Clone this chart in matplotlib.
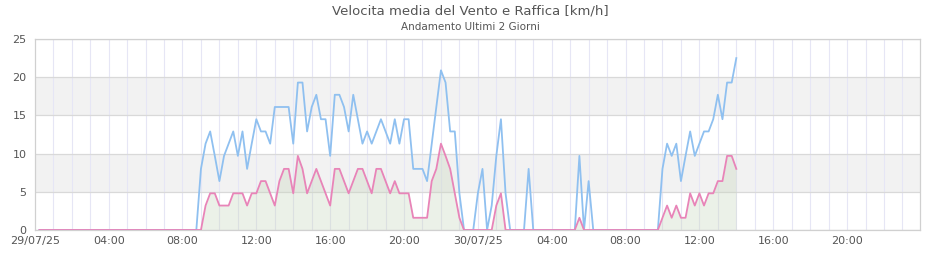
import matplotlib
matplotlib.use("Agg")
import matplotlib.pyplot as plt
import numpy as np

title = "Velocita media del Vento e Raffica [km/h]"
subtitle = "Andamento Ultimi 2 Giorni"

# samples every 15 minutes, starting 29/07/25 00:15 (hours since 29/07/25 00:00)
sample_step_h = 0.25
first_sample_h = 0.25

# Raffica (gust), km/h -- one row per hour (4 samples)
gust = [
    0, 0, 0, 0,   0, 0, 0, 0,   0, 0, 0, 0,   0, 0, 0, 0,
    0, 0, 0, 0,   0, 0, 0, 0,   0, 0, 0, 0,   0, 0, 0, 0,
    0, 0, 0, 8.0,
    11.3, 12.9, 9.7, 6.4,
    9.7, 11.3, 12.9, 9.7,
    12.9, 8.0, 11.3, 14.5,
    12.9, 12.9, 11.3, 16.1,
    16.1, 16.1, 16.1, 11.3,
    19.3, 19.3, 12.9, 16.1,
    17.7, 14.5, 14.5, 9.7,
    17.7, 17.7, 16.1, 12.9,
    17.7, 14.5, 11.3, 12.9,
    11.3, 12.9, 14.5, 12.9,
    11.3, 14.5, 11.3, 14.5,
    14.5, 8.0, 8.0, 8.0,
    6.4, 11.3, 16.1, 20.9,
    19.3, 12.9, 12.9, 4.8,
    0, 0, 0, 4.8,
    8.0, 0, 3.2, 9.7,
    14.5, 4.8, 0, 0,
    0, 0, 8.0, 0,
    0, 0, 0, 0,
    0, 0, 0, 0,
    0, 9.7, 0, 6.4,
    0, 0, 0, 0,   0, 0, 0, 0,   0, 0, 0, 0,
    0, 0, 0, 8.0,
    11.3, 9.7, 11.3, 6.4,
    9.7, 12.9, 9.7, 11.3,
    12.9, 12.9, 14.5, 17.7,
    14.5, 19.3, 19.3, 22.5,
]

# Velocita media (mean speed), km/h
mean = [
    0, 0, 0, 0,   0, 0, 0, 0,   0, 0, 0, 0,   0, 0, 0, 0,
    0, 0, 0, 0,   0, 0, 0, 0,   0, 0, 0, 0,   0, 0, 0, 0,
    0, 0, 0, 0,
    3.2, 4.8, 4.8, 3.2,
    3.2, 3.2, 4.8, 4.8,
    4.8, 3.2, 4.8, 4.8,
    6.4, 6.4, 4.8, 3.2,
    6.4, 8.0, 8.0, 4.8,
    9.7, 8.0, 4.8, 6.4,
    8.0, 6.4, 4.8, 3.2,
    8.0, 8.0, 6.4, 4.8,
    6.4, 8.0, 8.0, 6.4,
    4.8, 8.0, 8.0, 6.4,
    4.8, 6.4, 4.8, 4.8,
    4.8, 1.6, 1.6, 1.6,
    1.6, 6.4, 8.0, 11.3,
    9.7, 8.0, 4.8, 1.6,
    0, 0, 0, 0,
    0, 0, 0, 3.2,
    4.8, 0, 0, 0,
    0, 0, 0, 0,
    0, 0, 0, 0,
    0, 0, 0, 0,
    0, 1.6, 0, 0,
    0, 0, 0, 0,   0, 0, 0, 0,   0, 0, 0, 0,
    0, 0, 0, 1.6,
    3.2, 1.6, 3.2, 1.6,
    1.6, 4.8, 3.2, 4.8,
    3.2, 4.8, 4.8, 6.4,
    6.4, 9.7, 9.7, 8.0,
]

tick_hours = [0, 4, 8, 12, 16, 20, 24, 28, 32, 36, 40, 44]
tick_labels = ["29/07/25", "04:00", "08:00", "12:00", "16:00", "20:00",
               "30/07/25", "04:00", "08:00", "12:00", "16:00", "20:00"]
y_ticks = [0, 5, 10, 15, 20, 25]

hours = first_sample_h + sample_step_h * np.arange(len(gust))

fig = plt.figure(figsize=(9.4, 2.6), dpi=100)
ax = fig.add_axes([34.8 / 940, 1 - 230 / 260, (920 - 34.8) / 940, (230 - 39) / 260])

xmax = 47.95
ax.set_xlim(0, xmax)
ax.set_ylim(0, 25)

# alternating bands
for lo in (5, 15):
    ax.axhspan(lo, lo + 5, color="#f2f2f2", zorder=0, lw=0)

# vertical hourly grid
for h in range(1, 48):
    ax.axvline(h, color="#e6e6f5", lw=0.8, zorder=1)
for yv in y_ticks:
    ax.axhline(yv, color="#d9d9d9", lw=0.9, zorder=1)

ax.fill_between(hours, 0, mean, color="#c8d7be", alpha=0.35, lw=0, zorder=2)
ax.plot(hours, gust, color="#8fc0f0", lw=1.3, zorder=3)
ax.plot(hours, mean, color="#e884b8", lw=1.3, zorder=4)

ax.set_xticks(tick_hours)
ax.set_xticklabels(tick_labels)
ax.set_yticks(y_ticks)
ax.tick_params(axis="both", length=0, labelsize=8, colors="#555555")
ax.tick_params(axis="x", pad=4)
ax.tick_params(axis="y", pad=6)
for s in ax.spines.values():
    s.set_color("#d0d0d0")
    s.set_linewidth(0.9)

fig.text(0.5, 1 - 11 / 260, title, ha="center", va="center", fontsize=9.5, color="#555555")
fig.text(0.5, 1 - 27 / 260, subtitle, ha="center", va="center", fontsize=7.5, color="#555555")

fig.savefig("out.png", dpi=100)
